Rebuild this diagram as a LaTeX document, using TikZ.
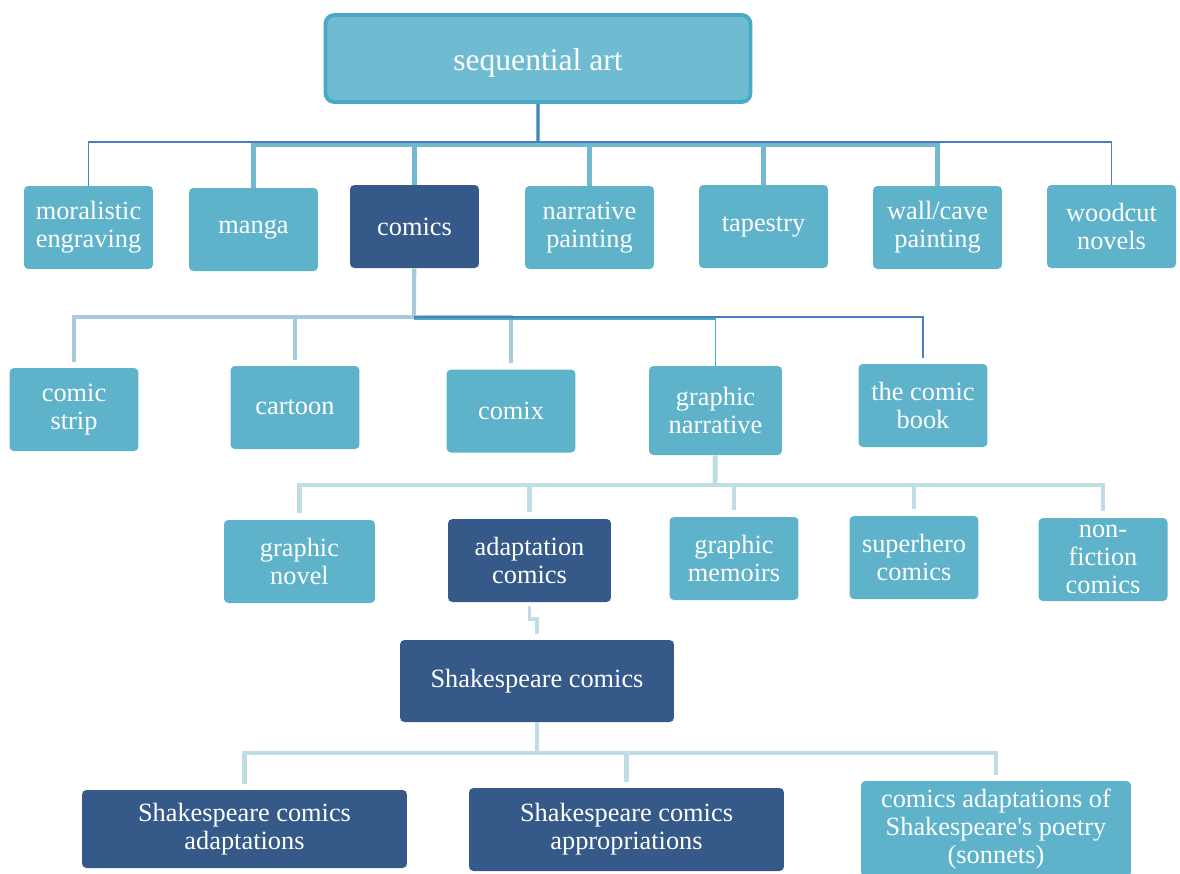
\documentclass[tikz,border=0pt]{standalone}
\usepackage{fontspec}
\setmainfont{Liberation Serif}[Ligatures=TeXOff]
\definecolor{boxlight}{HTML}{5EB3CB}
\definecolor{boxdark}{HTML}{355A89}
\definecolor{titlefill}{HTML}{6FBCD2}
\definecolor{titleline}{HTML}{4AAAC6}
\definecolor{linkblue}{HTML}{4A7EC0}
\definecolor{linkteal}{HTML}{72B9CF}
\definecolor{linkpale}{HTML}{A6CCDB}
\definecolor{linkfaint}{HTML}{C0DCE5}
\begin{document}
\begin{tikzpicture}[x=0.02cm,y=-0.02cm,
    box/.style={fill=boxlight,text=white,rounded corners=2.5pt,align=center,inner sep=0pt,
      minimum width=2.58cm,minimum height=1.66cm,font=\fontsize{15}{16}\selectfont},
    darkbox/.style={box,fill=boxdark},
    thinlink/.style={draw=linkblue,line width=0.9pt},
    teallink/.style={draw=linkteal,line width=2.3pt},
    palelink/.style={draw=linkpale,line width=2.3pt},
    faintlink/.style={draw=linkfaint,line width=2.8pt}]
    \useasboundingbox (0,0) rectangle (1180,873);
    \node[box,fill=titlefill,draw=titleline,line width=2.2pt,rounded corners=5pt,
      minimum width=8.5cm,minimum height=1.74cm,font=\fontsize{18}{20}\selectfont] (seqart) at (538,58.5) {\raisebox{-0.08cm}[\height][\depth]{sequential art}};
    \node[box] (moral) at (88.5,227.5) {moralistic\\engraving};
    \node[box] (manga) at (253.5,229.5) {manga};
    \node[darkbox] (comics) at (414.5,226.5) {comics};
    \node[box] (narrative) at (589.5,227.5) {narrative\\painting};
    \node[box] (tapestry) at (763.5,226.5) {tapestry};
    \node[box] (wall) at (937.5,227.5) {wall/cave\\painting};
    \node[box] (woodcut) at (1111.5,226.5) {woodcut\\novels};
    \node[box] (strip) at (74,409.5) {comic\\strip};
    \node[box] (cartoon) at (295,407.5) {cartoon};
    \node[box] (comix) at (511,411) {comix};
    \node[box,minimum width=2.66cm,minimum height=1.78cm] (gnarr) at (715.5,410.5) {graphic\\narrative};
    \node[box] (comicbook) at (923,405.5) {the comic\\book};
    \node[box,minimum width=3.02cm] (gnovel) at (299.5,561.5) {graphic\\novel};
    \node[darkbox,minimum width=3.26cm] (adapt) at (529.5,560.5) {adaptation\\comics};
    \node[box] (memoirs) at (734,558.5) {graphic\\memoirs};
    \node[box] (superhero) at (914,557.5) {superhero\\comics};
    \node[box] (nonfic) at (1103,559.5) {non-\\fiction\\comics};
    \node[darkbox,minimum width=5.48cm,minimum height=1.64cm] (shakes) at (537,681) {Shakespeare comics};
    \node[darkbox,minimum width=6.5cm,minimum height=1.56cm] (scadapt) at (244.5,829) {Shakespeare comics\\adaptations};
    \node[darkbox,minimum width=6.3cm,minimum height=1.66cm] (scapprop) at (626.5,829.5) {Shakespeare comics\\appropriations};
    \node[box,minimum width=5.4cm,minimum height=1.92cm] (sonnets) at (996,829) {comics adaptations of\\Shakespeare's poetry\\(sonnets)};
    \coordinate (tt) at (538,145);
    \coordinate (tb) at (538,142);
    \draw[teallink] (seqart) -- (tt);
    \foreach \n in {manga,comics,narrative,tapestry,wall}
      \draw[teallink] (tt) -| (\n);
    \draw[thinlink] (seqart) -- (tb) -| (moral);
    \draw[thinlink] (tb) -| (woodcut);
    \coordinate (cb) at (414,317);
    \draw[palelink] (comics) -- (cb);
    \foreach \n in {strip,cartoon,comix}
      \draw[palelink,shorten >=0.12cm] (cb) -| (\n);
    \draw[thinlink,shorten >=0.12cm] (cb) -| (comicbook);
    \draw[draw=titleline,line width=0.9pt] ([yshift=-0.04cm]cb) -| (gnarr);
    \coordinate (gb) at (715,485);
    \draw[faintlink] (gnarr) -- (gb);
    \foreach \n in {gnovel,adapt,memoirs,superhero,nonfic}
      \draw[faintlink,shorten >=0.14cm] (gb) -| (\n);
    \coordinate (az) at (533,619);
    \draw[faintlink,line width=2.2pt,shorten <=0.08cm,shorten >=0.12cm] (adapt) |- (az) -| (shakes);
    \coordinate (sb) at (537,753);
    \draw[faintlink] (shakes) -- (sb);
    \foreach \n in {scadapt,scapprop,sonnets}
      \draw[faintlink,shorten >=0.12cm] (sb) -| (\n);
\end{tikzpicture}
\end{document}
